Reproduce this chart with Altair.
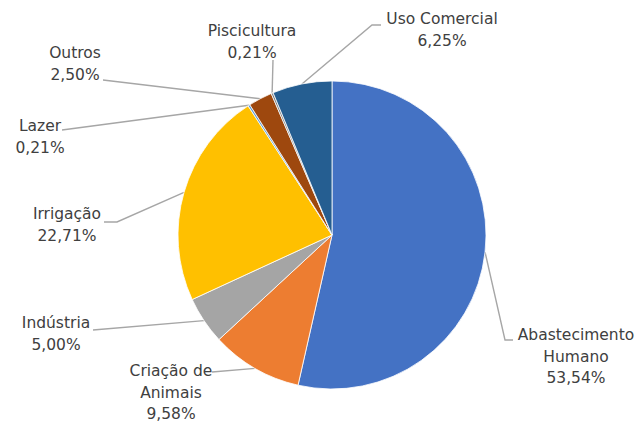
import math
import altair as alt
import pandas as pd

# ---- data ----
categories = ["Abastecimento Humano", "Criação de Animais", "Indústria", "Irrigação",
              "Lazer", "Outros", "Piscicultura", "Uso Comercial"]
values = [53.54, 9.58, 5.00, 22.71, 0.21, 2.50, 0.21, 6.25]
label_names = ["Abastecimento\nHumano", "Criação de\nAnimais", "Indústria", "Irrigação",
               "Lazer", "Outros", "Piscicultura", "Uso Comercial"]
colors = ["#4472C4", "#ED7D31", "#A5A5A5", "#FFC000",
          "#5B9BD5", "#9E480E", "#7F7F7F", "#255E91"]

# ---- layout ----
W, H = 637, 422
CX, CY, R = 332, 235, 154
FONT = "DejaVu Sans"
FS = 15.5
LH = 21.5
# centre of the first text line of each label
label_first_line = {
    "Abastecimento Humano": (576, 335),
    "Criação de Animais": (171, 371),
    "Indústria": (56, 323),
    "Irrigação": (67, 214),
    "Lazer": (40, 126),
    "Outros": (75, 53),
    "Piscicultura": (252, 31),
    "Uso Comercial": (442, 19),
}
leader_label_side = {
    "Abastecimento Humano": [(513, 340), (505, 340)],
    "Criação de Animais": [(212, 372)],
    "Indústria": [(93, 330)],
    "Irrigação": [(104, 222), (117, 222)],
    "Lazer": [(62, 130)],
    "Outros": [(103, 80)],
    "Piscicultura": [(273, 60)],
    "Uso Comercial": [(381, 25), (372, 25)],
}

total = sum(values)
rows, text_rows, line_rows = [], [], []
cum = 0.0
for i, (c, v, n) in enumerate(zip(categories, values, label_names)):
    mid = (cum + v / 2) / total * 2 * math.pi
    cum += v
    rows.append({"cat": c, "value": v, "idx": i})
    lx, ly = label_first_line[c]
    text_rows.append({"cat": c, "label": n + "\n" + f"{v:.2f}".replace(".", ",") + "%",
                      "lx": lx, "ly": ly})
    pts = leader_label_side[c] + [(CX + R * math.sin(mid), CY - R * math.cos(mid))]
    for k, (px, py) in enumerate(pts):
        line_rows.append({"cat": c, "k": k, "px": px, "py": py})

df = pd.DataFrame(rows)
tdf = pd.DataFrame(text_rows)
ldf = pd.DataFrame(line_rows)

pie = alt.Chart(df).mark_arc(radius=R, stroke="white", strokeWidth=0.8).encode(
    theta=alt.Theta("value:Q", stack=True),
    order=alt.Order("idx:Q"),
    color=alt.Color("cat:N", scale=alt.Scale(domain=categories, range=colors), legend=None),
    x=alt.value(CX),
    y=alt.value(CY),
)

lines = alt.Chart(ldf).mark_line(color="#A6A6A6", strokeWidth=1.4).encode(
    x=alt.X("px:Q", scale=None, axis=None),
    y=alt.Y("py:Q", scale=None, axis=None),
    detail="cat:N",
    order="k:Q",
)

texts = alt.Chart(tdf).mark_text(
    font=FONT, fontSize=FS, color="#404040", align="center", baseline="middle",
    lineBreak="\n", lineHeight=LH,
).encode(
    x=alt.X("lx:Q", scale=None, axis=None),
    y=alt.Y("ly:Q", scale=None, axis=None),
    text="label:N",
)

chart = alt.layer(lines, pie, texts).properties(
    width=W, height=H, padding=0, autosize="none",
    background="white",
).configure_view(stroke=None)

chart.save("out.html", embed_options={"renderer": "svg", "actions": False})
